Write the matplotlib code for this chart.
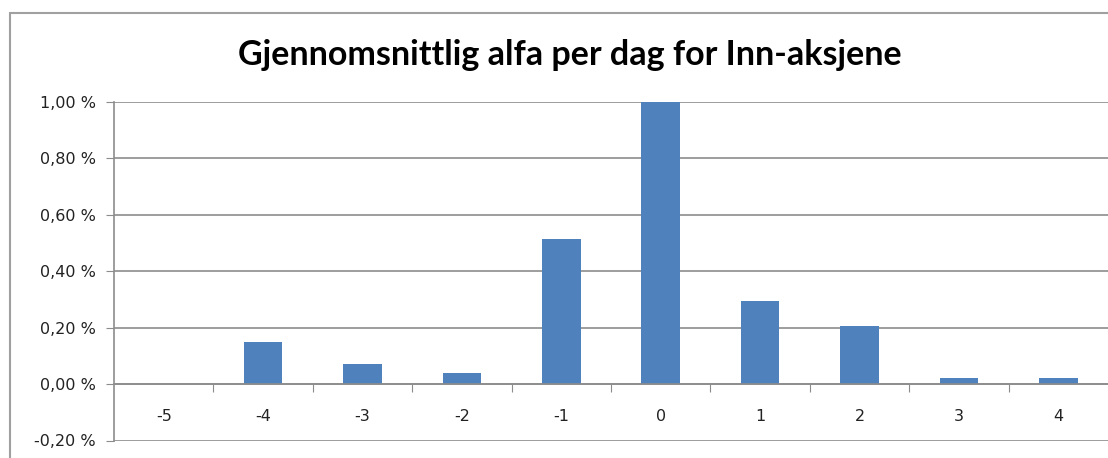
import matplotlib.pyplot as plt
from matplotlib.patches import Rectangle
from matplotlib.ticker import FixedLocator, FuncFormatter

days = [-5, -4, -3, -2, -1, 0, 1, 2, 3, 4]
alpha_pct = [0.0, 0.148, 0.072, 0.038, 0.514, 1.0, 0.295, 0.205, 0.023, 0.022]
y_ticks = [-0.2, 0.0, 0.2, 0.4, 0.6, 0.8, 1.0]

bar_color = "#4F81BD"
grid_color = "#8C8C8C"

fig = plt.figure(figsize=(11.08, 4.58), dpi=100)
fig.patch.set_facecolor("white")

# chart border (cut off on right/bottom like the reference)
fig.add_artist(Rectangle((10 / 1108, -0.1), 1.2, 1 - 13 / 458 + 0.1,
                         transform=fig.transFigure, fill=False,
                         edgecolor="#A0A0A0", linewidth=1.5))

ax = fig.add_axes([114 / 1108, 1 - 440.5 / 458, (1108 - 114) / 1108, (440.5 - 101.7) / 458])

x = list(range(len(days)))
ax.bar(x, alpha_pct, width=0.39, color=bar_color, zorder=3)

ax.set_xlim(-0.5, len(days) - 0.5)
ax.set_ylim(-0.2, 1.0)
ax.set_yticks(y_ticks)
ax.yaxis.set_major_formatter(FuncFormatter(lambda v, p: f"{v:.2f} %".replace(".", ",")))
ax.yaxis.grid(True, color=grid_color, linewidth=1.2, zorder=0)
ax.tick_params(axis="y", length=6, color=grid_color, labelsize=11.5, pad=7,
               labelcolor="#222222")

ax.spines["top"].set_visible(False)
ax.spines["right"].set_visible(False)
ax.spines["left"].set_color(grid_color)
ax.spines["left"].set_linewidth(1.2)
ax.spines["bottom"].set_position(("data", 0))
ax.spines["bottom"].set_color(grid_color)
ax.spines["bottom"].set_linewidth(1.2)
ax.spines["bottom"].set_zorder(4)

# tick marks between categories, labels at category centres
ax.xaxis.set_major_locator(FixedLocator([i + 0.5 for i in x[:-1]]))
ax.xaxis.set_major_formatter(FuncFormatter(lambda v, p: ""))
ax.xaxis.set_minor_locator(FixedLocator(x))
ax.set_xticklabels([str(d) for d in days], minor=True)
ax.tick_params(axis="x", which="major", length=6, color=grid_color, direction="out")
ax.tick_params(axis="x", which="minor", length=0, pad=18, labelsize=11.5,
               labelcolor="#222222")

fig.text(570 / 1108, 1 - 55 / 458, "Gjennomsnittlig alfa per dag for Inn-aksjene",
         ha="center", va="center", fontsize=24.5, fontweight="bold",
         family=["Lato", "DejaVu Sans"])

fig.savefig("out.png", dpi=100)
